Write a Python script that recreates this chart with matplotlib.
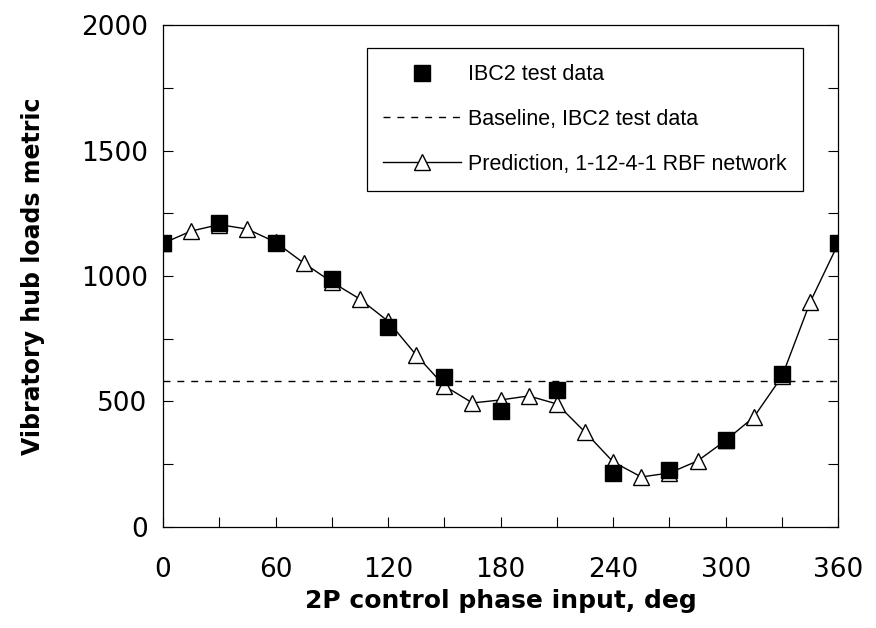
"""Vibratory hub loads vs 2P control phase."""

import matplotlib

matplotlib.use("Agg")
import matplotlib.pyplot as plt

# IBC2 test data (every 30 deg)
test_phase = [0, 30, 60, 90, 120, 150, 180, 210, 240, 270, 300, 330, 360]
test_load = [1130, 1212, 1132, 990, 795, 598, 460, 545, 215, 228, 345, 610, 1130]

# RBF network prediction (every 15 deg)
pred_phase = [0, 15, 30, 45, 60, 75, 90, 105, 120, 135, 150, 165, 180,
              195, 210, 225, 240, 255, 270, 285, 300, 315, 330, 345, 360]
pred_load = [1130, 1179, 1205, 1187, 1135, 1052, 976, 908, 820, 685, 562, 494, 506,
             522, 490, 378, 259, 199, 215, 263, 345, 438, 600, 896, 1130]

baseline = 580

x_ticks = [0, 60, 120, 180, 240, 300, 360]
y_ticks = [0, 500, 1000, 1500, 2000]

plt.rcParams["font.family"] = ["DejaVu Sans"]

fig = plt.figure(figsize=(8.76, 6.28), dpi=100)
ax = fig.add_axes([0.186, 0.161, 0.771, 0.799])

base_handle = ax.axhline(baseline, color="black", linestyle=(0, (5, 5)), linewidth=1.0)
pred_handle, = ax.plot(pred_phase, pred_load, linestyle="-", color="black", linewidth=1.0,
                       marker="^", markersize=11, markerfacecolor="white",
                       markeredgecolor="black", markeredgewidth=1.0, zorder=3)
test_handle, = ax.plot(test_phase, test_load, linestyle="none", marker="s", markersize=12,
                       color="black", zorder=4)

ax.set_xlim(0, 360)
ax.set_ylim(0, 2000)
ax.set_xticks(x_ticks)
ax.set_xticks(range(30, 360, 60), minor=True)
ax.set_yticks(y_ticks)
ax.set_yticks(range(250, 2000, 500), minor=True)
ax.tick_params(which="both", direction="in", right=True, top=False, length=7, width=0.8)
ax.tick_params(axis="x", which="major", labelsize=19, pad=22)
ax.tick_params(axis="y", which="major", labelsize=19, pad=11)
for spine in ax.spines.values():
    spine.set_linewidth(0.9)

ax.set_xlabel("2P control phase input, deg", fontsize=18, fontweight="bold", labelpad=4)
ax.set_ylabel("Vibratory hub loads metric", fontsize=17, fontweight="bold", labelpad=26)

leg = ax.legend([test_handle, base_handle, pred_handle],
                ["IBC2 test data", "Baseline, IBC2 test data",
                 "Prediction, 1-12-4-1 RBF network"],
                loc="upper right", bbox_to_anchor=(0.948, 0.954),
                prop={"family": "Liberation Sans", "size": 15.5},
                frameon=True, fancybox=False, edgecolor="black", framealpha=1,
                handlelength=3.6, borderpad=0.75, labelspacing=1.1, handletextpad=0.35,
                borderaxespad=0)
leg.get_frame().set_linewidth(0.9)

plt.savefig("out.png", dpi=100)
plt.close()
